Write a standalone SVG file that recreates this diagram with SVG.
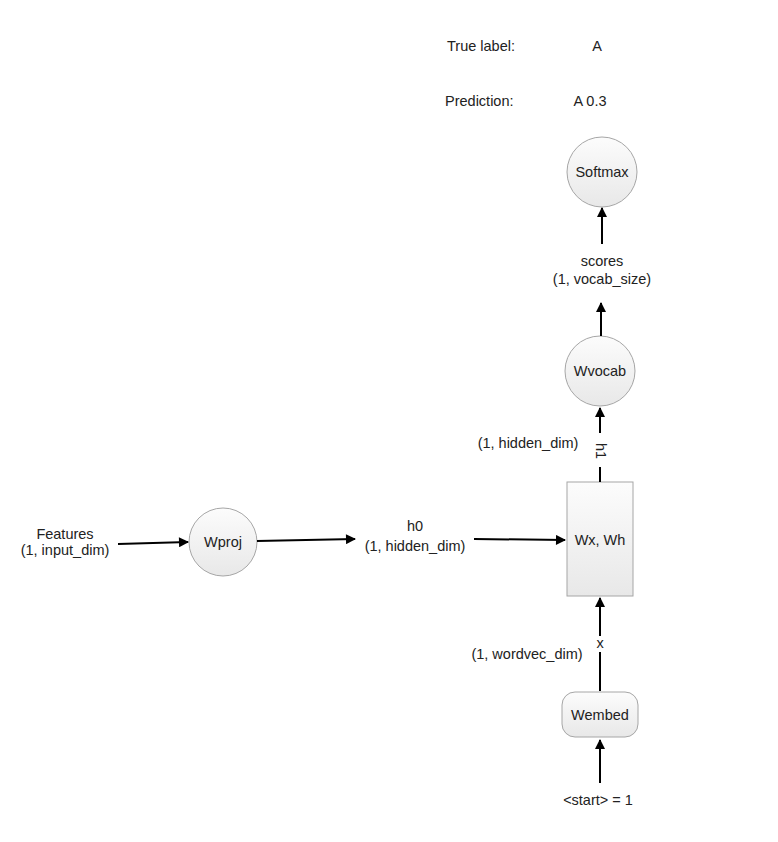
<svg xmlns="http://www.w3.org/2000/svg" width="778" height="842" viewBox="0 0 778 842">
<style>
text{font-family:"Liberation Sans",Arial,sans-serif;font-size:14.5px;fill:#222;}
.c{text-anchor:middle;}
.node{fill:url(#g);stroke:#a6a6a6;stroke-width:1;}
.edge{stroke:#000;stroke-width:2;fill:none;marker-end:url(#ah);}
.seg{stroke:#000;stroke-width:2;fill:none;}
</style>
<defs>
<linearGradient id="g" x1="0" y1="0" x2="0" y2="1">
<stop offset="0" stop-color="#fcfcfc"/>
<stop offset="1" stop-color="#e8e8e8"/>
</linearGradient>
<marker id="ah" viewBox="0 0 10 10" refX="9" refY="5" markerWidth="5.5" markerHeight="5" orient="auto" markerUnits="strokeWidth">
<path d="M0,0 L10,5 L0,10 z" fill="#000"/>
</marker>
</defs>
<rect width="778" height="842" fill="#fff"/>
<g id="labels">
<text x="447" y="51">True label:</text>
<text x="597" y="51" class="c">A</text>
<text x="445" y="106">Prediction:</text>
<text x="590" y="106" class="c">A 0.3</text>
</g>
<g id="softmax">
<circle cx="602" cy="172" r="35" class="node"/>
<text x="602" y="177" class="c">Softmax</text>
</g>
<g id="wvocab">
<circle cx="600" cy="371" r="35" class="node"/>
<text x="600" y="376" class="c">Wvocab</text>
</g>
<g id="rnn">
<rect x="567" y="482" width="66" height="114" class="node"/>
<text x="600" y="545" class="c">Wx, Wh</text>
</g>
<g id="wembed">
<rect x="562" y="692" width="76" height="45" rx="13" class="node"/>
<text x="600" y="720" class="c">Wembed</text>
</g>
<g id="wproj">
<circle cx="223" cy="542" r="34" class="node"/>
<text x="223" y="547" class="c">Wproj</text>
</g>
<g id="features">
<text x="65" y="539" class="c">Features</text>
<text x="65" y="555" class="c">(1, input_dim)</text>
</g>
<g id="h0">
<text x="415" y="531" class="c">h0</text>
<text x="415" y="551" class="c">(1, hidden_dim)</text>
</g>
<g id="scores">
<text x="602" y="266" class="c">scores</text>
<text x="602" y="284" class="c">(1, vocab_size)</text>
</g>
<g id="start">
<text x="598" y="805" class="c">&lt;start&gt; = 1</text>
</g>
<g id="connectors">
<path d="M118,544 L188,542" class="edge"/>
<path d="M257,541 L355,539" class="edge"/>
<path d="M474,539 L565,540" class="edge"/>
<path d="M602,244 L602,208" class="edge"/>
<path d="M601,336 L601,303" class="edge"/>
<path d="M600,482 L600,467" class="seg"/>
<path d="M600,433 L600,408" class="edge"/>
<text transform="translate(596,443) rotate(90)">h1</text>
<text x="528" y="448" class="c">(1, hidden_dim)</text>
<path d="M600,691 L600,652" class="seg"/>
<path d="M600,636 L600,598" class="edge"/>
<text x="600" y="648" class="c">x</text>
<text x="527" y="659" class="c">(1, wordvec_dim)</text>
<path d="M600,783 L600,740" class="edge"/>
</g>
</svg>
